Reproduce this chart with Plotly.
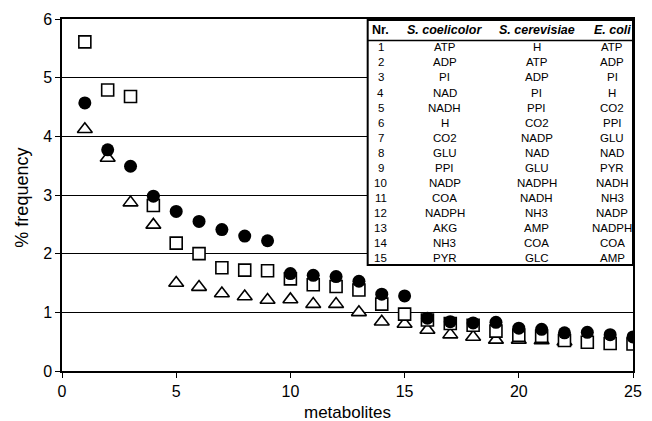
import plotly.graph_objects as go

metabolite_rank = list(range(1, 26))
triangle_rank = list(range(1, 23))

series_square = [5.61, 4.79, 4.68, 2.82, 2.18, 2.00, 1.76, 1.72, 1.71, 1.57, 1.47, 1.44, 1.38,
                 1.14, 0.97, 0.87, 0.81, 0.78, 0.68, 0.61, 0.59, 0.52, 0.49, 0.47, 0.46]
series_circle = [4.57, 3.77, 3.49, 2.98, 2.72, 2.55, 2.41, 2.30, 2.22, 1.66, 1.63, 1.61, 1.53,
                 1.31, 1.28, 0.90, 0.84, 0.82, 0.83, 0.73, 0.71, 0.65, 0.66, 0.62, 0.58]
series_triangle = [4.12, 3.63, 2.87, 2.49, 1.50, 1.43, 1.32, 1.27, 1.21, 1.22, 1.14, 1.14, 1.00,
                   0.84, 0.80, 0.70, 0.62, 0.58, 0.53, 0.53, 0.52, 0.50]

table_header = ["Nr.", "S. coelicolor", "S. cerevisiae", "E. coli"]
table_nr = [str(i) for i in range(1, 16)]
table_coelicolor = ["ATP", "ADP", "PI", "NAD", "NADH", "H", "CO2", "GLU", "PPI", "NADP",
                    "COA", "NADPH", "AKG", "NH3", "PYR"]
table_cerevisiae = ["H", "ATP", "ADP", "PI", "PPI", "CO2", "NADP", "NAD", "GLU", "NADPH",
                    "NADH", "NH3", "AMP", "COA", "GLC"]
table_ecoli = ["ATP", "ADP", "PI", "H", "CO2", "PPI", "GLU", "NAD", "PYR", "NADH",
               "NH3", "NADP", "NADPH", "COA", "AMP"]

FONT = "Arial, Liberation Sans, sans-serif"

fig = go.Figure()
fig.add_trace(go.Scatter(x=triangle_rank, y=series_triangle, mode="markers",
                         marker=dict(symbol="triangle-up", size=13, color="white",
                                     line=dict(color="black", width=1.6)),
                         showlegend=False))
fig.add_trace(go.Scatter(x=metabolite_rank, y=series_square, mode="markers",
                         marker=dict(symbol="square", size=12, color="white",
                                     line=dict(color="black", width=1.6)),
                         showlegend=False))
fig.add_trace(go.Scatter(x=metabolite_rank, y=series_circle, mode="markers",
                         marker=dict(symbol="circle", size=13, color="black",
                                     line=dict(color="black", width=0)),
                         showlegend=False))

L, R, T, B = 62, 10, 19, 50
W, H = 652, 421
pw, ph = W - L - R, H - T - B


def px_x(px):
    return (px - L) / pw


def px_y(py):
    return (H - B - py) / ph


fig.update_layout(
    width=W, height=H, margin=dict(l=L, r=R, t=T, b=B),
    paper_bgcolor="white", plot_bgcolor="white",
    font=dict(family=FONT, color="black", size=16),
)
fig.update_xaxes(range=[0, 25], dtick=5, tick0=0, ticks="outside", ticklen=5,
                 tickcolor="black", showline=True, linecolor="black", linewidth=1.5,
                 mirror=True, showgrid=False, zeroline=False,
                 tickfont=dict(size=16, family=FONT), ticklabelstandoff=0)
fig.update_yaxes(range=[0, 6], dtick=1, tick0=0, ticks="outside", ticklen=5,
                 tickcolor="black", showline=True, linecolor="black", linewidth=1.5,
                 mirror=True, showgrid=True, gridcolor="black", gridwidth=1,
                 zeroline=False, tickfont=dict(size=16, family=FONT))


def note(text, cx, cy, size, angle=0):
    fig.add_annotation(text=text, x=px_x(cx), y=px_y(cy), xref="paper", yref="paper",
                       xanchor="center", yanchor="middle", showarrow=False,
                       textangle=angle, font=dict(size=size, family=FONT))


# axis titles
note("metabolites", 352, 412, 17)
note("% frequency", 21, 198, 18, -90)

# table box
tx0, tx1, ty0, ty1 = 372.5, 642, 20, 265
fig.add_shape(type="rect", xref="paper", yref="paper",
              x0=px_x(tx0), x1=px_x(tx1), y0=px_y(ty1), y1=px_y(ty0),
              fillcolor="white", line=dict(color="black", width=2), layer="above")
fig.add_shape(type="line", xref="paper", yref="paper",
              x0=px_x(tx0), x1=px_x(tx1), y0=px_y(40.5), y1=px_y(40.5),
              line=dict(color="black", width=1.5), layer="above")

col_x = [386, 451, 544, 621]
for cx, h in zip(col_x, table_header):
    txt = "<b>%s</b>" % h if h == "Nr." else "<b><i>%s</i></b>" % h
    note(txt, cx, 30, 12.5)

columns = [table_nr, table_coelicolor, table_cerevisiae, table_ecoli]
for cx, col in zip(col_x, columns):
    for i, v in enumerate(col):
        note(v, cx, 47.5 + 15 * i, 11.5)

fig.write_html("out.html")
